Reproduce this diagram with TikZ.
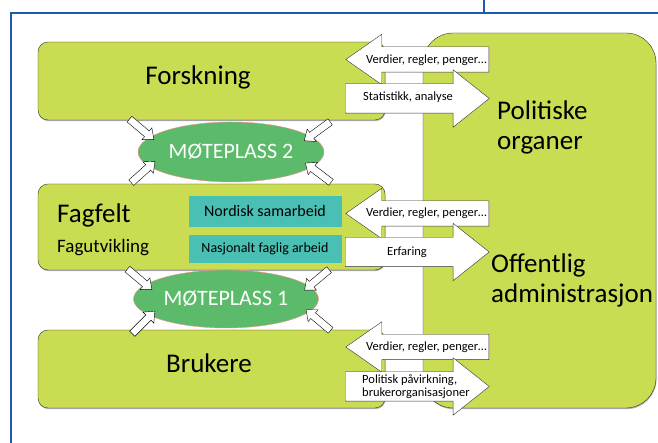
\documentclass[tikz,border=0pt]{standalone}
\usepackage{fontspec}
\setmainfont{Carlito}
\usetikzlibrary{shapes.geometric,shapes.arrows,positioning,calc,shadows}
\definecolor{lime}{RGB}{201,220,82}
\definecolor{tealbg}{RGB}{74,191,179}
\definecolor{meet}{RGB}{92,187,106}
\definecolor{frameblue}{RGB}{31,91,170}

\begin{document}
\begin{tikzpicture}[x=1pt, y=1pt,
    field/.style={draw=black!80, fill=lime, rounded corners=10pt, minimum width=347pt, inner sep=0pt, drop shadow={shadow xshift=0.5pt, shadow yshift=-1.2pt, opacity=0.6}},
    tealbox/.style={fill=tealbg, minimum width=153pt, inner sep=0pt},
    meeting/.style={ellipse, draw=red!45, fill=meet, text=white, inner sep=0pt, font=\fontsize{22}{26}\selectfont},
    back/.style={single arrow, shape border rotate=180, draw=black!80, fill=white, minimum height=143pt, inner xsep=0pt, inner ysep=12.5pt, single arrow head extend=12.5pt, single arrow tip angle=70},
    forth/.style={single arrow, draw=black!80, fill=white, minimum height=144pt, inner xsep=0pt, inner ysep=14.5pt, single arrow head extend=14pt, single arrow tip angle=77},
    pointer/.style={single arrow, draw=black, fill=white, minimum height=32pt, inner xsep=0pt, inner ysep=3.5pt, single arrow head extend=4pt, single arrow tip angle=80},
    big/.style={font=\fontsize{27}{30}\selectfont, inner sep=0pt},
    small/.style={font=\fontsize{12.5}{13.5}\selectfont, inner sep=0pt}]
    \useasboundingbox (0,0) rectangle (658,443);
    \draw[frameblue, line width=1.5pt] (11,0) -- (11,430) -- (658,430);
    \draw[frameblue, line width=1.5pt] (484,430) -- (484,443);

    \node[draw=black!80, fill=lime, rounded corners=30pt, minimum width=233pt, minimum height=375pt, drop shadow={shadow xshift=0.5pt, shadow yshift=-1.2pt, opacity=0.6}] (Stat) at (539.5,222.5) {};
    \node[big, align=left, anchor=west] (PolTxt) at (497,316) {Politiske\\organer};
    \node[big, align=left, anchor=west] (OffTxt) at (491,163) {Offentlig\\administrasjon};

    \node[field, minimum height=78pt] (Forsk) at (211.5,362) {};
    \node[field, minimum height=86pt] (Fag) at (211.5,216) {};
    \node[field, minimum height=78pt] (Bruk) at (211.5,74) {};
    \node[big, anchor=base] (ForskTxt) at (198,358) {Forskning};
    \node[big, anchor=base west] (FagTxt) at (57,220) {Fagfelt};
    \node[inner sep=0pt, anchor=base west, font=\fontsize{19}{22}\selectfont] (UtvTxt) at (57,190) {Fagutvikling};
    \node[big, anchor=base] (BrukTxt) at (209,70) {Brukere};

    \node[tealbox, minimum height=31pt, font=\fontsize{16}{19}\selectfont] (Nordisk) at (265,231.5) {Nordisk samarbeid};
    \node[tealbox, minimum height=28pt, font=\fontsize{14}{17}\selectfont] (Nasjonal) at (265,194) {Nasjonalt faglig arbeid};

    \node[meeting, minimum width=186pt, minimum height=60pt] (M2) at (231,291) {MØTEPLASS 2};
    \node[meeting, minimum width=185pt, minimum height=58pt] (M1) at (226,144) {MØTEPLASS 1};

    \node[pointer, rotate=-40] (M2a) at (140,315) {};
    \node[pointer, rotate=42] (M2b) at (141.5,269.5) {};
    \node[pointer, rotate=216] (M2c) at (319,313) {};
    \node[pointer, rotate=143] (M2d) at (320,269) {};
    \node[pointer, rotate=-40] (M1a) at (138,165) {};
    \node[pointer, rotate=45] (M1b) at (142,119) {};
    \node[pointer, rotate=220] (M1c) at (318.5,164.5) {};
    \node[pointer, rotate=140] (M1d) at (320,121.5) {};

    \node[back, anchor=tail] (V1) at (489,383.5) {};
    \node[forth, anchor=tail] (S1) at (345,344.5) {};
    \node[back, anchor=tail] (V2) at (489,229.5) {};
    \node[forth, anchor=tail] (E2) at (345,191) {};
    \node[back, anchor=tail] (V3) at (489,96) {};
    \node[forth, anchor=tail] (P3) at (345,56.5) {};
    \node[small, anchor=base east] (V1txt) at ([shift={(-2,-4.5)}]V1.tail) {Verdier, regler, penger…};
    \node[small, anchor=base west] (S1txt) at ([shift={(18,-2.5)}]S1.tail) {Statistikk, analyse};
    \node[small, anchor=base east] (V2txt) at ([shift={(-2,-3.5)}]V2.tail) {Verdier, regler, penger…};
    \node[small, anchor=base] (E2txt) at ([shift={(62,-4)}]E2.tail) {Erfaring};
    \node[small, anchor=base east] (V3txt) at ([shift={(-2,-3.5)}]V3.tail) {Verdier, regler, penger…};
    \node[small, align=left, anchor=west] (P3txt) at ([shift={(17,0)}]P3.tail) {Politisk påvirkning,\\brukerorganisasjoner};
\end{tikzpicture}
\end{document}
